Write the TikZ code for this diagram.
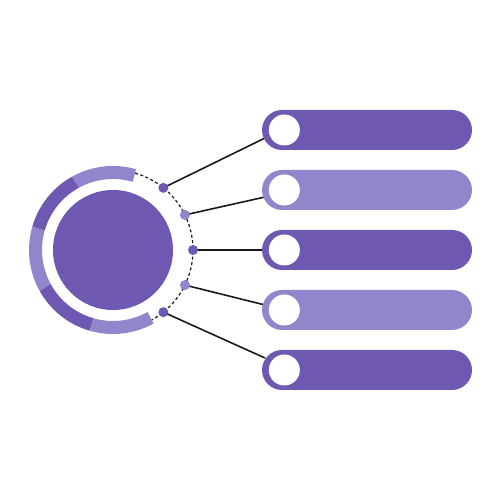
\documentclass[tikz,border=0pt]{standalone}
\usetikzlibrary{calc}
\definecolor{pdark}{HTML}{6E58B2}
\definecolor{plight}{HTML}{9185CB}
\begin{document}
\begin{tikzpicture}[x=1pt,y=1pt,
  bar/.style={rectangle, minimum width=210pt, minimum height=40pt, rounded corners=20pt, inner sep=0pt},
  hole/.style={circle, fill=white, minimum size=31pt, inner sep=0pt},
  dot/.style={circle, minimum size=10pt, inner sep=0pt},
  link/.style={line width=1.6pt, draw=black!90},
  seg/.style={line width=13pt}]
\useasboundingbox (0,0) rectangle (500,500);
\coordinate (c) at (113,250);
% connector ends (relative to bar positions)
\coordinate (b1) at (367,370);
\coordinate (b2) at (367,310);
\coordinate (b3) at (367,250);
\coordinate (b4) at (367,190);
\coordinate (b5) at (367,130);
\coordinate (e1) at ($(b1)+(-102,-8)$);
\coordinate (e2) at ($(b2)+(-102,-7)$);
\coordinate (e3) at ($(b3)+(-102,0)$);
\coordinate (e4) at ($(b4)+(-102,5)$);
\coordinate (e5) at ($(b5)+(-102,12)$);
% dot positions
\coordinate (p1) at ($(c)+(51:80)$);
\coordinate (p2) at ($(c)+(26:80)$);
\coordinate (p3) at ($(c)+(0:80)$);
\coordinate (p4) at ($(c)+(-26:80)$);
\coordinate (p5) at ($(c)+(-51:80)$);
% connectors (drawn first, under bars and dots)
\foreach \i in {1,...,5} {\draw[link] (p\i) -- (e\i);}
% central disk
\node[circle, fill=pdark, minimum size=120pt, inner sep=0pt] (disk) at (c) {};
% ring segments
\draw[seg, plight] ($(c)+(74:77.5)$) arc[start angle=74, end angle=119, radius=77.5];
\draw[seg, pdark] ($(c)+(119:77.5)$) arc[start angle=119, end angle=164, radius=77.5];
\draw[seg, plight] ($(c)+(164:77.5)$) arc[start angle=164, end angle=209, radius=77.5];
\draw[seg, pdark] ($(c)+(209:77.5)$) arc[start angle=209, end angle=254, radius=77.5];
\draw[seg, plight] ($(c)+(254:77.5)$) arc[start angle=254, end angle=299, radius=77.5];
% dashed arc
\draw[line width=1.2pt, dash pattern=on 3pt off 2.5pt, black!90] ($(c)+(74:80)$) arc[start angle=74, end angle=-61, radius=80];
% bars, holes, dots
\foreach \i/\col in {1/pdark,2/plight,3/pdark,4/plight,5/pdark} {
  \node[bar, fill=\col] (bar\i) at (b\i) {};
  \node[hole] (h\i) at ($(bar\i.west)+(22.5,0)$) {};
  \node[dot, fill=\col] (d\i) at (p\i) {};
}
\end{tikzpicture}
\end{document}
